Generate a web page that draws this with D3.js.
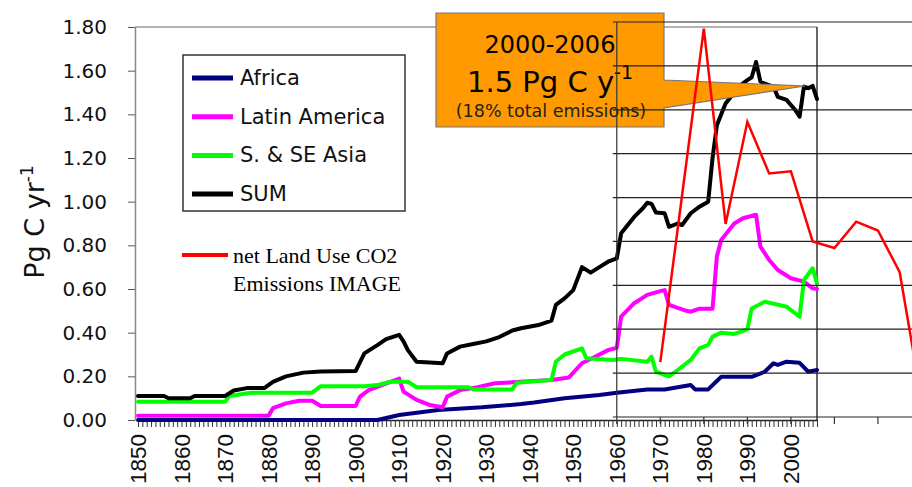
<!DOCTYPE html>
<html>
<head>
<meta charset="utf-8">
<script src="https://cdn.jsdelivr.net/npm/d3@7"></script>
<style>
  body { margin: 0; background: #fff; }
  svg { display: block; }
</style>
</head>
<body>
<div id="chart"></div>
<script>
// land use emissions by region, [year, Pg C / yr]
const africa = [
  [1850, 0.00], [1905, 0.00], [1910, 0.023], [1919, 0.046], [1929, 0.058],
  [1938, 0.073], [1941, 0.08], [1948, 0.10], [1956, 0.115], [1960, 0.125],
  [1967, 0.14], [1971, 0.14], [1975, 0.153], [1977, 0.16], [1978, 0.14],
  [1981, 0.14], [1984, 0.198], [1991, 0.198], [1994, 0.221], [1996, 0.26],
  [1997, 0.252], [1999, 0.267], [2002, 0.262], [2004, 0.221], [2006, 0.229]
];
const latinAmerica = [
  [1850, 0.02], [1880, 0.02], [1881, 0.054], [1884, 0.076], [1887, 0.088],
  [1890, 0.088], [1892, 0.064], [1900, 0.064], [1901, 0.107], [1903, 0.137],
  [1906, 0.16], [1908, 0.175], [1910, 0.19], [1911, 0.13], [1914, 0.092],
  [1917, 0.069], [1920, 0.058], [1921, 0.107], [1924, 0.137], [1928, 0.15],
  [1932, 0.168], [1938, 0.175], [1945, 0.183], [1949, 0.195], [1952, 0.26],
  [1955, 0.29], [1958, 0.32], [1960, 0.331], [1961, 0.473], [1964, 0.535],
  [1967, 0.573], [1970, 0.59], [1971, 0.595], [1972, 0.527], [1976, 0.50],
  [1977, 0.496], [1979, 0.51], [1982, 0.51], [1983, 0.75], [1984, 0.825],
  [1987, 0.90], [1989, 0.924], [1992, 0.94], [1993, 0.794], [1995, 0.733],
  [1997, 0.687], [2000, 0.649], [2003, 0.634], [2005, 0.603], [2006, 0.60]
];
const asia = [
  [1850, 0.084], [1870, 0.084], [1871, 0.11], [1876, 0.125], [1890, 0.125],
  [1892, 0.155], [1902, 0.155], [1905, 0.16], [1908, 0.175], [1912, 0.175],
  [1914, 0.15], [1926, 0.15], [1927, 0.14], [1936, 0.14], [1937, 0.171],
  [1945, 0.183], [1946, 0.267], [1948, 0.30], [1952, 0.328], [1953, 0.283],
  [1959, 0.275], [1961, 0.28], [1967, 0.267], [1968, 0.29], [1969, 0.221],
  [1972, 0.20], [1974, 0.229], [1977, 0.275], [1979, 0.328], [1981, 0.344],
  [1982, 0.382], [1984, 0.40], [1987, 0.394], [1990, 0.415], [1991, 0.511],
  [1994, 0.542], [1999, 0.519], [2002, 0.473], [2003, 0.641], [2005, 0.695],
  [2006, 0.626]
];
const sum = [
  [1850, 0.11], [1856, 0.11], [1857, 0.10], [1862, 0.10], [1863, 0.11],
  [1870, 0.11], [1872, 0.135], [1875, 0.146], [1879, 0.146], [1881, 0.175],
  [1884, 0.20], [1888, 0.217], [1892, 0.222], [1900, 0.224], [1902, 0.305],
  [1905, 0.343], [1907, 0.37], [1910, 0.39], [1911, 0.36], [1912, 0.32],
  [1914, 0.267], [1920, 0.26], [1921, 0.305], [1924, 0.336], [1927, 0.348],
  [1930, 0.36], [1933, 0.38], [1936, 0.41], [1938, 0.42], [1942, 0.435],
  [1945, 0.455], [1946, 0.527], [1948, 0.557], [1950, 0.595], [1952, 0.70],
  [1954, 0.675], [1956, 0.70], [1958, 0.725], [1960, 0.74], [1961, 0.855],
  [1964, 0.93], [1966, 0.97], [1967, 0.995], [1968, 0.99], [1969, 0.95],
  [1971, 0.947], [1972, 0.885], [1974, 0.90], [1975, 0.893], [1977, 0.947],
  [1979, 0.977], [1981, 1.00], [1982, 1.20], [1983, 1.35], [1984, 1.40],
  [1985, 1.45], [1987, 1.50], [1988, 1.527], [1990, 1.557], [1991, 1.57],
  [1992, 1.64], [1993, 1.55], [1994, 1.54], [1996, 1.527], [1997, 1.48],
  [1999, 1.466], [2001, 1.42], [2002, 1.389], [2003, 1.527], [2004, 1.52],
  [2005, 1.53], [2006, 1.47]
];

// net land use CO2 emissions, IMAGE (pasted-on chart)
const imageYears = [1970, 1980, 1985, 1990, 1995, 2000, 2005, 2010, 2015, 2020, 2025, 2030];
const imageValues = [0.25, 1.77, 0.88, 1.345, 1.11, 1.12, 0.80, 0.77, 0.89, 0.85, 0.66, 0.08];

const yTicks = [0, 0.2, 0.4, 0.6, 0.8, 1.0, 1.2, 1.4, 1.6, 1.8];
const decadeTicks = d3.range(1850, 2001, 10);
const imageGrid = [0.2, 0.4, 0.6, 0.8, 1.0, 1.2, 1.4, 1.6, 1.8];
const imageTicks = d3.range(1960, 2031, 10);

const series = [
  { name: "Africa", data: africa, color: "#000080" },
  { name: "Latin America", data: latinAmerica, color: "#ff00ff" },
  { name: "S. & SE Asia", data: asia, color: "#00ff00" },
  { name: "SUM", data: sum, color: "#000000" }
];

const width = 912, height = 487;
const sans = "'DejaVu Sans', Verdana, sans-serif";

const svg = d3.select("#chart").append("svg")
  .attr("width", width)
  .attr("height", height)
  .style("background", "#fff");

let x = d3.scaleLinear().domain([1850, 2006]).range([138, 817]);
let y = d3.scaleLinear().domain([0, 1.8]).range([420, 27]);
let yImg = d3.scaleLinear().domain([0, 1.8]).range([417, 22]);

// plot frame
svg.append("line")
  .attr("x1", 135).attr("x2", x(2006))
  .attr("y1", y(1.8)).attr("y2", y(1.8))
  .attr("stroke", "#999").attr("stroke-width", 1.5);
svg.append("line")
  .attr("x1", x(2006)).attr("x2", x(2006))
  .attr("y1", y(1.8)).attr("y2", y(0))
  .attr("stroke", "#333").attr("stroke-width", 1.5);

// y axis
let yAxis = svg.append("g")
  .attr("transform", "translate(135,0)")
  .call(d3.axisLeft(y).tickValues(yTicks).tickFormat(d3.format(".2f"))
    .tickSize(7).tickSizeOuter(0).tickPadding(21));
yAxis.select(".domain").attr("stroke", "#888").attr("stroke-width", 1.5);
yAxis.selectAll(".tick line").attr("stroke", "#555");
yAxis.selectAll("text")
  .attr("font-family", sans).attr("font-size", 20).attr("fill", "#111");

svg.append("text")
  .attr("transform", "translate(44,222) rotate(-90)")
  .attr("text-anchor", "middle")
  .attr("font-family", sans).attr("font-size", 27).attr("fill", "#111")
  .call(t => {
    t.append("tspan").text("Pg C yr");
    t.append("tspan").attr("font-size", 17).attr("dy", -11).text("-1");
  });

// x axis: yearly ticks, decade labels
let xAxis = svg.append("g")
  .attr("transform", `translate(0,${y(0)})`)
  .call(d3.axisBottom(x).tickValues(d3.range(1850, 2007)).tickFormat("")
    .tickSize(7).tickSizeOuter(0));
xAxis.select(".domain").attr("stroke", "#222").attr("stroke-width", 1.5);
xAxis.selectAll(".tick line").attr("stroke", "#333");

svg.append("g").selectAll("text")
  .data(decadeTicks)
  .join("text")
  .attr("transform", d => `translate(${x(d) + 8},434) rotate(-90)`)
  .attr("text-anchor", "end")
  .attr("font-family", "'Liberation Sans', Arial, sans-serif")
  .attr("font-size", 22.5).attr("fill", "#111")
  .text(d => d);

// regional lines
const line = d3.line().x(d => x(d[0])).y(d => y(d[1]));
svg.append("g").selectAll("path")
  .data(series)
  .join("path")
  .attr("d", d => line(d.data))
  .attr("fill", "none")
  .attr("stroke", d => d.color)
  .attr("stroke-width", 4)
  .attr("stroke-linejoin", "round")
  .attr("stroke-linecap", "round");

// legend
const legend = svg.append("g");
legend.append("rect")
  .attr("x", 183).attr("y", 55).attr("width", 222).attr("height", 156)
  .attr("fill", "#fff").attr("stroke", "#333").attr("stroke-width", 1.5);
const item = legend.selectAll("g.item")
  .data(series)
  .join("g")
  .attr("class", "item")
  .attr("transform", (d, i) => `translate(0,${78 + i * 38.7})`);
item.append("line")
  .attr("x1", 192).attr("x2", 233)
  .attr("stroke", d => d.color).attr("stroke-width", 5);
item.append("text")
  .attr("x", 240).attr("y", 7)
  .attr("font-family", sans).attr("font-size", 21).attr("fill", "#111")
  .text(d => d.name);

// IMAGE legend
svg.append("line")
  .attr("x1", 182).attr("x2", 228).attr("y1", 255).attr("y2", 255)
  .attr("stroke", "#ff0000").attr("stroke-width", 4);
svg.append("text")
  .attr("font-family", "'Liberation Serif', 'Times New Roman', serif")
  .attr("font-size", 22).attr("fill", "#000")
  .selectAll("tspan")
  .data(["net Land Use CO2", "Emissions IMAGE"])
  .join("tspan")
  .attr("x", 233)
  .attr("y", (d, i) => 263 + i * 28)
  .text(d => d);

// callout
svg.append("path")
  .attr("d", "M436,13H664V80L805,86L664,108V127H436Z")
  .attr("fill", "#ff9900")
  .attr("stroke", "#777").attr("stroke-width", 1.2);
svg.append("text")
  .attr("x", 550).attr("y", 53).attr("text-anchor", "middle")
  .attr("font-family", sans).attr("font-size", 24).attr("fill", "#000")
  .text("2000-2006");
svg.append("text")
  .attr("x", 550).attr("y", 92).attr("text-anchor", "middle")
  .attr("font-family", sans).attr("font-size", 29).attr("fill", "#000")
  .call(t => {
    t.append("tspan").text("1.5 Pg C y");
    t.append("tspan").attr("font-size", 19).attr("dy", -13).text("-1");
  });
svg.append("text")
  .attr("x", 551).attr("y", 117).attr("text-anchor", "middle")
  .attr("font-family", sans).attr("font-size", 17.5).attr("fill", "#222")
  .text("(18% total emissions)");

// pasted IMAGE chart: grid, axes, line
const img = svg.append("g");
img.selectAll("line.grid")
  .data(imageGrid)
  .join("line")
  .attr("class", "grid")
  .attr("x1", x(1960) - 4).attr("x2", width)
  .attr("y1", d => yImg(d)).attr("y2", d => yImg(d))
  .attr("stroke", "#222").attr("stroke-width", 1.2);
img.append("line")
  .attr("x1", x(1960) - 4).attr("x2", width)
  .attr("y1", yImg(0)).attr("y2", yImg(0))
  .attr("stroke", "#222").attr("stroke-width", 1.2);
img.append("line")
  .attr("x1", x(1960)).attr("x2", x(1960))
  .attr("y1", yImg(1.8)).attr("y2", yImg(0))
  .attr("stroke", "#333").attr("stroke-width", 1.2);
img.selectAll("line.tick")
  .data(imageTicks)
  .join("line")
  .attr("class", "tick")
  .attr("x1", d => x(d)).attr("x2", d => x(d))
  .attr("y1", yImg(0)).attr("y2", yImg(0) + 7)
  .attr("stroke", "#333").attr("stroke-width", 1.2);

const imageLine = d3.line()
  .x((d, i) => x(imageYears[i]))
  .y(d => yImg(d));
img.append("path")
  .attr("d", imageLine(imageValues))
  .attr("fill", "none")
  .attr("stroke", "#ff0000")
  .attr("stroke-width", 2.5)
  .attr("stroke-linejoin", "miter");
</script>
</body>
</html>
